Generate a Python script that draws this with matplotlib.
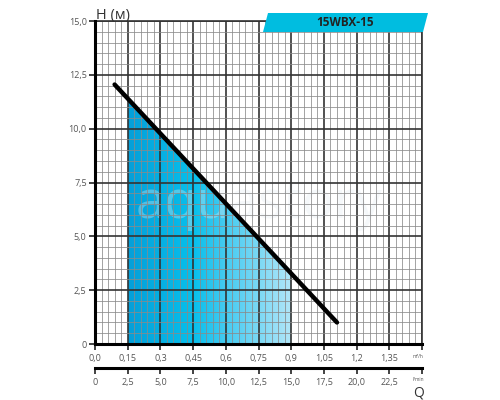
import numpy as np
import matplotlib
matplotlib.use("Agg")
import matplotlib.pyplot as plt
from matplotlib.colors import LinearSegmentedColormap
from matplotlib.patches import Polygon

# Data
curve_q = [0.09, 1.11]          # m3/h
curve_h = [12.05, 1.0]          # m
work_range = [0.15, 0.9]        # working zone (m3/h)
x_ticks = [0.0, 0.15, 0.3, 0.45, 0.6, 0.75, 0.9, 1.05, 1.2, 1.35]
x_labels = ["0,0", "0,15", "0,3", "0,45", "0,6", "0,75", "0,9", "1,05", "1,2", "1,35"]
y_ticks = [0, 2.5, 5.0, 7.5, 10.0, 12.5, 15.0]
y_labels = ["0", "2,5", "5,0", "7,5", "10,0", "12,5", "15,0"]
lmin_ticks = [0, 2.5, 5.0, 7.5, 10.0, 12.5, 15.0, 17.5, 20.0, 22.5]
lmin_labels = ["0", "2,5", "5,0", "7,5", "10,0", "12,5", "15,0", "17,5", "20,0", "22,5"]
model = "15WBX-15"

plt.rcParams['font.family'] = ['Open Sans', 'DejaVu Sans']
fig = plt.figure(figsize=(5, 4), dpi=100)
ax = fig.add_axes([0.19, 0.14, 0.654, 0.8075])
ax.set_xlim(0, 1.5)
ax.set_ylim(0, 15)

# grid
for xv in np.arange(0, 1.5001, 0.03):
    major = abs(xv / 0.15 - round(xv / 0.15)) < 1e-6
    ax.axvline(xv, color='#333333' if major else '#8a8a8a', lw=1.2 if major else 0.55, zorder=2)
for yv in np.arange(0, 15.001, 0.5):
    major = abs(yv / 2.5 - round(yv / 2.5)) < 1e-6
    ax.axhline(yv, color='#333333' if major else '#8a8a8a', lw=1.2 if major else 0.55, zorder=2)

# gradient fill under curve in working zone
slope = (curve_h[1] - curve_h[0]) / (curve_q[1] - curve_q[0])
def h_at(q):
    return curve_h[0] + slope * (q - curve_q[0])
poly = Polygon([(work_range[0], 0), (work_range[0], h_at(work_range[0])),
                (work_range[1], h_at(work_range[1])), (work_range[1], 0)],
               closed=True, facecolor='none', edgecolor='none')
ax.add_patch(poly)
cmap = LinearSegmentedColormap.from_list('g', [(0, '#049fd9'), (0.4, '#08c0ec'), (0.55, '#38c8f0'), (1.0, '#b2e6f8')])
grad = np.linspace(0, 1, 256).reshape(1, -1)
im = ax.imshow(grad, extent=[work_range[0], work_range[1], 0, 15], aspect='auto',
               cmap=cmap, zorder=1, interpolation='bicubic')
im.set_clip_path(poly)
ax.set_xlim(0, 1.5)
ax.set_ylim(0, 15)

# watermark
ax.text(0.75, 6.5, "aquastory", fontsize=38, color='#e4ebf2', alpha=0.35,
        ha='center', va='center', zorder=1.5)

# curve
ax.plot(curve_q, curve_h, color='black', lw=3.2, solid_capstyle='round', zorder=4)

ax.set_xticks(x_ticks + [1.5])
ax.set_xticklabels(x_labels + [""], fontsize=6.5, color='#555555')
ax.set_yticks(y_ticks)
ax.set_yticklabels(y_labels, fontsize=6.5, color='#555555')
ax.tick_params(axis='x', length=4, width=1.2, color='#222222', pad=3)
ax.tick_params(axis='y', length=4, width=1.2, color='#222222', pad=2)
for s in ['left', 'bottom']:
    ax.spines[s].set_linewidth(2.2)
    ax.spines[s].set_color('black')
    ax.spines[s].set_zorder(5)
for s in ['top', 'right']:
    ax.spines[s].set_linewidth(1.2)
    ax.spines[s].set_color('#333333')

# second axis (l/min)
ax2 = fig.add_axes([0.19, 0.08, 0.654, 0.001])
ax2.set_xlim(0, 25)
ax2.set_yticks([])
for s in ['top', 'left', 'right']:
    ax2.spines[s].set_visible(False)
ax2.spines['bottom'].set_linewidth(2.2)
ax2.set_xticks(lmin_ticks + [25])
ax2.set_xticklabels(lmin_labels + [""], fontsize=6.5, color='#555555')
ax2.tick_params(axis='x', length=4, width=1.2, color='#222222', pad=3)
ax2.patch.set_visible(False)

# labels
fig.text(0.193, 0.962, "H (м)", fontsize=10.5, color='#333333', ha='left', va='center')
fig.text(0.836, 0.017, "Q", fontsize=10, color='#333333', ha='center', va='center')
fig.text(0.836, 0.108, "m³/h", fontsize=3.5, color='#555555', ha='center', va='center')
fig.text(0.836, 0.052, "l/min", fontsize=3.5, color='#555555', ha='center', va='center')

# banner
bx = [263, 268, 428, 423]
by = [32, 13, 13, 32]
banner = Polygon([(x / 500, 1 - y / 400) for x, y in zip(bx, by)], closed=True,
                 transform=fig.transFigure, facecolor='#00bde0', edgecolor='none', zorder=6)
fig.patches.append(banner)
fig.text(345.5 / 500, 1 - 22.5 / 400, model, fontsize=8.5, fontweight='bold',
         color='#222222', ha='center', va='center', zorder=7)

fig.savefig("out.png", dpi=100)
